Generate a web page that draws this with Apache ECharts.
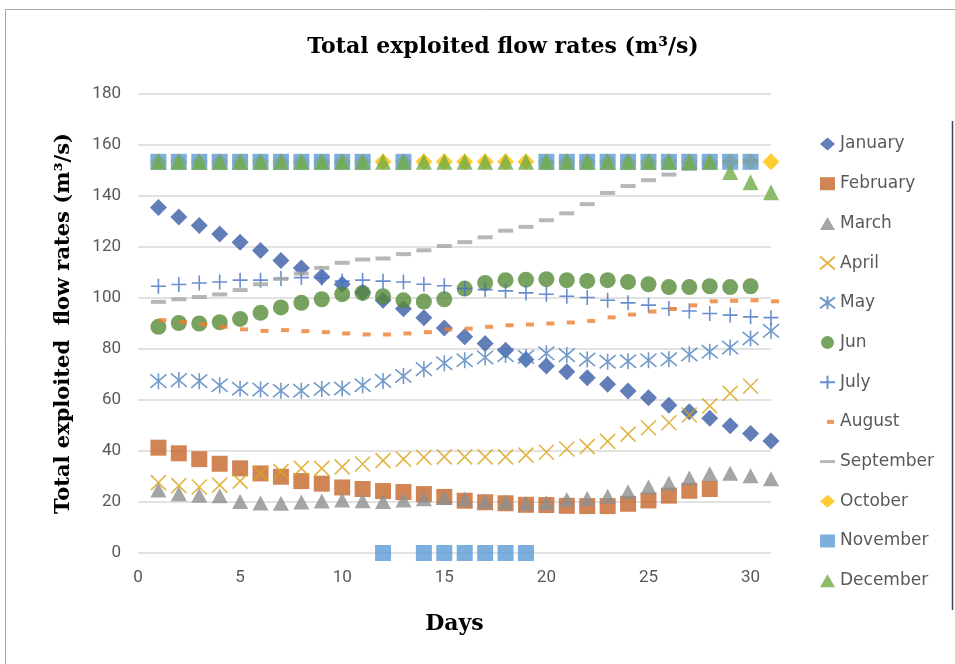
<!DOCTYPE html>
<html>
<head>
<meta charset="utf-8">
<title>Total exploited flow rates</title>
<script src="https://cdn.jsdelivr.net/npm/echarts@6/dist/echarts.min.js"></script>
<style>
  html, body { margin: 0; padding: 0; background: #ffffff; }
  #chart { width: 955px; height: 664px; }
</style>
</head>
<body>
<div id="chart"></div>
<script>
// Daily exploited flow rate (m³/s) for each month, day 1 .. end of month
const monthNames = ['January', 'February', 'March', 'April', 'May', 'Jun', 'July',
  'August', 'September', 'October', 'November', 'December'];

const january = [135.5, 131.8, 128.4, 125.1, 121.9, 118.6, 114.7, 111.8, 108.3, 105.4,
  102.3, 99.1, 95.8, 92.3, 88.2, 84.8, 82.2, 79.5, 75.9, 73.3, 71.1, 68.7, 66.2, 63.5,
  60.9, 57.9, 55.4, 52.8, 49.9, 46.9, 43.9];
const february = [41.3, 39.1, 36.8, 35.0, 33.2, 31.2, 29.9, 28.2, 27.2, 25.7, 25.1, 24.3,
  23.9, 23.1, 22.0, 20.5, 19.9, 19.5, 18.9, 18.8, 18.5, 18.4, 18.4, 19.3, 20.6, 22.5,
  24.4, 25.1];
const march = [24.7, 23.2, 22.6, 22.5, 20.2, 19.6, 19.5, 20.0, 20.4, 20.8, 20.5, 20.2,
  20.8, 21.3, 21.8, 21.2, 20.4, 20.0, 19.5, 19.7, 21.0, 21.4, 22.3, 24.0, 25.9, 27.4,
  29.4, 31.1, 31.3, 30.3, 29.1];
const april = [27.6, 26.4, 25.9, 26.6, 28.2, 31.2, 31.9, 33.2, 33.2, 33.8, 34.9, 36.2,
  36.8, 37.5, 37.7, 37.7, 37.7, 37.7, 38.4, 39.5, 40.8, 41.7, 43.8, 46.6, 49.1, 51.1,
  54.1, 57.7, 62.6, 65.4];
const may = [67.4, 67.8, 67.4, 65.8, 64.4, 64.1, 63.6, 63.6, 64.3, 64.5, 65.8, 67.5,
  69.4, 72.1, 74.4, 75.6, 76.7, 77.6, 76.9, 78.3, 77.6, 75.9, 75.0, 75.2, 75.6, 76.0,
  77.9, 78.9, 80.6, 84.1, 87.1];
const jun = [88.7, 90.2, 90.0, 90.5, 91.8, 94.2, 96.3, 98.1, 99.5, 101.5, 102.0, 100.7,
  99.1, 98.6, 99.5, 103.7, 105.9, 107.0, 107.2, 107.4, 107.0, 106.7, 107.0, 106.3, 105.4,
  104.3, 104.3, 104.6, 104.3, 104.6];
const july = [104.6, 105.3, 105.9, 106.3, 107.0, 107.0, 107.6, 108.0, 107.8, 106.6, 107.0,
  106.6, 106.3, 105.4, 104.8, 103.7, 103.3, 102.8, 102.0, 101.5, 100.7, 100.2, 99.1, 98.1,
  97.2, 95.9, 94.9, 93.9, 93.3, 92.6, 92.3];
const august = [91.3, 90.6, 89.7, 88.7, 87.7, 87.1, 87.4, 87.0, 86.6, 86.1, 85.7, 85.7,
  86.1, 86.6, 87.7, 88.0, 88.7, 89.3, 89.6, 90.0, 90.4, 91.0, 92.4, 93.5, 94.7, 95.7,
  97.1, 98.7, 98.9, 99.1, 98.7];
const september = [98.5, 99.5, 100.4, 101.4, 103.1, 105.4, 107.5, 109.6, 111.8, 113.8,
  115.1, 115.5, 117.2, 118.7, 120.4, 121.9, 123.8, 126.4, 127.9, 130.5, 133.2, 136.8,
  141.2, 143.9, 146.2, 148.4, 150.6, 152.4, 153.4, 153.8];
const october = [153.4, 153.4, 153.4, 153.4, 153.4, 153.4, 153.4, 153.4, 153.4, 153.4,
  153.4, 153.4, 153.4, 153.4, 153.4, 153.4, 153.4, 153.4, 153.4, 153.4, 153.4, 153.4,
  153.4, 153.4, 153.4, 153.4, 153.4, 153.4, 153.4, 153.4, 153.4];
const november = [153.4, 153.4, 153.4, 153.4, 153.4, 153.4, 153.4, 153.4, 153.4, 153.4,
  153.4, 0, 153.4, 0, 0, 0, 0, 0, 0, 153.4, 153.4, 153.4, 153.4, 153.4, 153.4, 153.4,
  153.4, 153.4, 153.4, 153.4];
const december = [153.4, 153.4, 153.4, 153.4, 153.4, 153.4, 153.4, 153.4, 153.4, 153.4,
  153.4, 153.4, 153.4, 153.4, 153.4, 153.4, 153.4, 153.4, 153.4, 153.4, 153.4, 153.4,
  153.4, 153.4, 153.4, 153.4, 153.4, 153.4, 149.4, 145.4, 141.5];

const monthValues = [january, february, march, april, may, jun, july,
  august, september, october, november, december];

const xTicks = [0, 5, 10, 15, 20, 25, 30];
const yTicks = [0, 20, 40, 60, 80, 100, 120, 140, 160, 180];

// Marker shapes
const crossPath = 'path://M0,0L10,10M10,0L0,10';
const starPath = 'path://M0,0L10,10M10,0L0,10M5,-1L5,11';
const plusPath = 'path://M5,0L5,10M0,5L10,5';

const markers = [
  { color: '#3A5EA6', symbol: 'diamond', size: 17 },
  { color: '#C5662B', symbol: 'rect', size: 16 },
  { color: '#8E8E8E', symbol: 'triangle', size: [16, 15] },
  { color: '#DBA417', symbol: crossPath, size: 15, stroke: true },
  { color: '#4F81BD', symbol: starPath, size: 16, stroke: true },
  { color: '#568B37', symbol: 'circle', size: 16 },
  { color: '#4472C4', symbol: plusPath, size: 15, stroke: true },
  { color: '#ED7D31', symbol: 'rect', size: [8, 4], offset: [4, 0] },
  { color: '#A5A5A5', symbol: 'rect', size: [15, 4] },
  { color: '#FFC000', symbol: 'diamond', size: 17 },
  { color: '#5B9BD5', symbol: 'rect', size: 16 },
  { color: '#70AD47', symbol: 'triangle', size: [16, 16] }
];

// Legend icons (the dash icons keep some empty room inside the icon box)
const legendIcons = ['diamond', 'rect', 'triangle', crossPath, starPath, 'circle', plusPath,
  'path://M0,0M15,13M7,4.5h7v4h-7z', 'path://M0,0M15,13M0,5h15v3h-15z',
  'diamond', 'rect', 'triangle'];

const series = monthNames.map((name, i) => {
  const m = markers[i];
  const itemStyle = m.stroke
    ? { color: 'rgba(0,0,0,0)', borderColor: m.color, borderWidth: 1.6 }
    : { color: m.color };
  return {
    name: name,
    type: 'scatter',
    symbol: m.symbol,
    symbolSize: m.size,
    symbolOffset: m.offset || [0, 0],
    itemStyle: itemStyle,
    emphasis: { disabled: true },
    data: monthValues[i].map((v, d) => [d + 1, v])
  };
});

const serifBold = {
  fontFamily: 'DejaVu Serif',
  fontWeight: 'bold',
  color: '#000000'
};

const chart = echarts.init(document.getElementById('chart'), null, { renderer: 'canvas' });

chart.setOption({
  animation: false,
  backgroundColor: '#ffffff',
  title: {
    text: 'Total exploited flow rates (m³/s)',
    left: 498,
    top: 31,
    textAlign: 'center',
    textStyle: Object.assign({ fontSize: 22 }, serifBold)
  },
  legend: {
    orient: 'vertical',
    left: 814,
    top: 129,
    itemGap: 19.7,
    itemWidth: 15,
    itemHeight: 13,
    symbolKeepAspect: false,
    selectedMode: false,
    textStyle: {
      fontFamily: 'DejaVu Sans',
      fontSize: 17,
      color: '#595959',
      lineHeight: 20
    },
    data: monthNames.map((name, i) => ({ name: name, icon: legendIcons[i] }))
  },
  grid: {
    left: 138,
    right: 184,
    top: 94,
    bottom: 111,
    containLabel: false
  },
  xAxis: {
    type: 'value',
    min: 0,
    max: 31,
    interval: 5,
    name: 'Days',
    nameLocation: 'middle',
    nameGap: 60,
    nameTextStyle: Object.assign({ fontSize: 22 }, serifBold),
    axisLine: { show: false },
    axisTick: { show: false },
    splitLine: { show: false },
    axisLabel: {
      margin: 16,
      fontFamily: 'Roboto',
      fontSize: 17,
      color: '#595959',
      formatter: v => (xTicks.indexOf(v) >= 0 ? String(v) : '')
    }
  },
  yAxis: {
    type: 'value',
    min: 0,
    max: 180,
    interval: 20,
    name: 'Total exploited  flow rates (m³/s)',
    nameLocation: 'middle',
    nameGap: 64,
    nameTextStyle: Object.assign({ fontSize: 21 }, serifBold),
    axisLine: { show: false },
    axisTick: { show: false },
    splitLine: { show: true, lineStyle: { color: '#D9D9D9', width: 1.5 } },
    axisLabel: {
      margin: 17,
      fontFamily: 'Roboto',
      fontSize: 17,
      color: '#595959',
      formatter: v => (yTicks.indexOf(v) >= 0 ? String(v) : '')
    }
  },
  graphic: [
    {
      type: 'rect',
      silent: true,
      shape: { x: 5.5, y: 9.5, width: 1000, height: 700 },
      style: { fill: 'none', stroke: '#A6A6A6', lineWidth: 1 }
    },
    {
      type: 'line',
      silent: true,
      shape: { x1: 952.5, y1: 121, x2: 952.5, y2: 610 },
      style: { stroke: '#4A3F55', lineWidth: 1.5 }
    }
  ],
  series: series
});
</script>
</body>
</html>
